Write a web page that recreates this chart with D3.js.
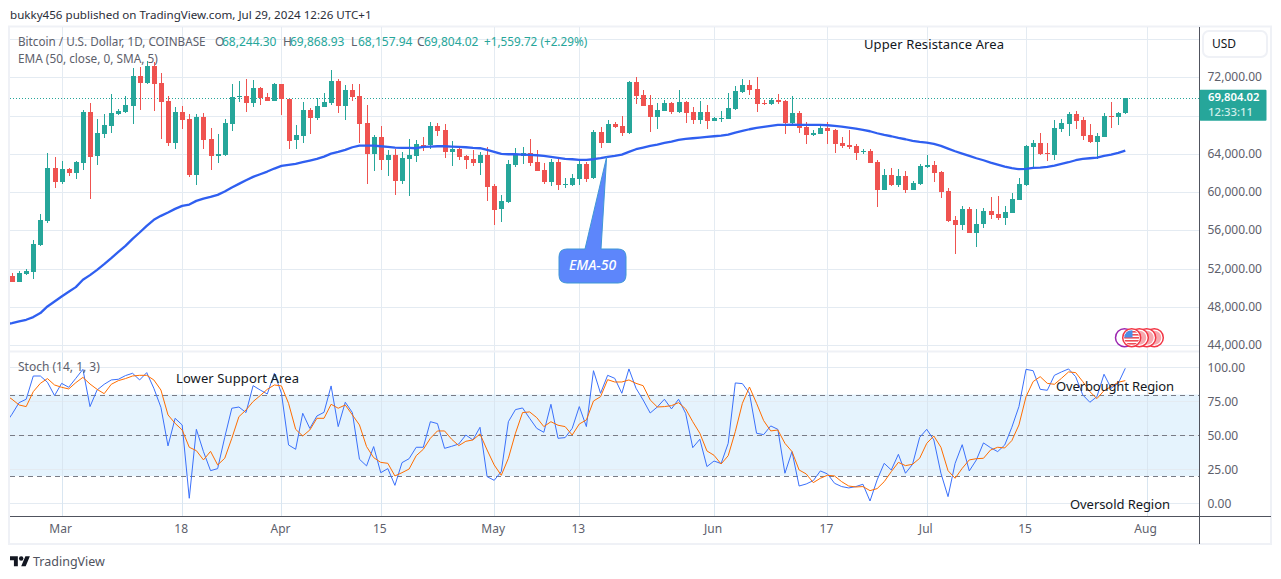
<!DOCTYPE html>
<html><head><meta charset="utf-8">
<script src="https://cdn.jsdelivr.net/npm/d3@7"></script>
<style>
html,body{margin:0;padding:0;background:#fff}
svg{display:block}
text{font-family:"Noto Sans",sans-serif;font-size:12px}
</style></head><body><svg id="c" width="1281" height="579"></svg>
<script>
const open=[51260,50633,51468,51677,54496,57002,62535,61073,62430,62013,63057,68381,63788,66084,66920,68172,68381,69008,72140,71409,73184,71409,69530,65145,68381,67650,61804,67859,65562,63788,63892,67128,69947,70052,69321,70887,69947,69530,71304,69738,65458,65876,68590,67755,68903,69321,71618,69008,70678,70052,67233,63996,65771,63370,63892,61178,63474,63788,64971,64936,66920,66502,64205,64518,63788,63474,63057,63892,60656,58254,58985,62848,63788,64101,63161,62326,61073,63161,60760,60760,61386,62952,61491,66293,65145,67128,66920,66189,71513,70156,69112,67859,68486,69321,68381,69425,68381,67546,68381,67442,67685,67650,68694,70469,71200,70782,69321,69216,69634,69530,67233,68277,66815,65980,66085,66711,66502,65145,64936,64832,64170,64310,63161,60238,61804,60760,61700,60238,60864,62674,62848,62117,60134,57106,56584,58254,55749,56688,58046,57732,57315,57837,59194,60760,64727,65145,64101,63892,66606,67128,68172,67546,65980,65249,65771,67964,67859,68244.30];
const high=[51538,51782,51956,55018,57732,64066,63683,63266,62535,63266,68590,69321,67650,68172,70260,68694,70052,72975,73079,73706,73601,72453,70052,68903,69008,68172,68172,68277,66711,66084,67650,71304,71618,71826,71722,70991,70365,71409,71304,69738,67024,69425,68799,69843,70365,72766,71826,71200,71304,71304,69112,65980,66920,64414,64518,64205,65562,65458,65771,67337,67233,67128,65354,64832,63892,64414,64205,64692,60864,59716,63370,64623,64727,65562,64414,63057,63474,63474,61491,61908,63474,63161,66502,66815,67546,67337,67964,71618,72000,70678,70156,69321,69634,69425,70678,69530,68903,69530,69112,67859,68486,70365,71096,71826,71722,72070,69634,69843,70260,69634,70052,68486,67337,66502,66920,67337,66606,65771,66502,65040,64518,64518,63370,62430,62535,62430,62222,61177,62952,63892,63266,62222,60447,57524,58568,58463,58254,58359,59507,59612,58568,59925,61491,64936,65458,66189,65145,67546,67650,68381,68486,67859,67128,66189,68277,69425,68381,69868.93];
const low=[50564,50600,51364,50946,54400,56828,60482,60899,61734,61386,62326,59298,62848,65667,66189,68068,68277,67128,68590,71350,68486,65562,64832,64518,66606,61595,60760,64518,62326,63057,63788,66398,69425,68381,68903,69112,69500,69500,68068,64518,64518,65145,66084,67546,68850,69112,68277,67546,69530,65145,60864,62162,62326,61700,59716,60864,59612,63161,64310,64518,65876,63579,62744,63370,62430,62744,61804,59090,56584,56897,58881,62639,62952,62744,62180,60864,60656,60238,60447,60656,60760,61073,61386,64623,65100,66711,65876,66085,69216,68950,66293,66606,68440,68172,68277,67233,67128,67128,66606,67400,67337,67600,68590,70365,70156,68381,69112,69112,69216,66085,67024,66189,65040,65876,66050,65040,64101,64623,64518,63370,63996,63000,58463,60200,60656,60551,59925,60200,60760,62535,61073,59403,56897,53556,56062,55700,54287,56271,57210,57106,56584,57800,59150,60656,62535,63892,63266,63370,66293,65876,66606,65458,65145,63474,65720,66711,67024,68157.94];
const close=[50633,51573,51747,54600,57106,62535,61073,62430,62013,63161,68381,63683,66189,67024,68277,68486,69112,72140,71409,73184,71304,69425,65145,68381,67546,61804,67859,65458,63788,63996,67233,69947,70052,69321,70887,69843,69530,71304,69704,65354,65980,68590,67755,69008,69425,71618,69008,70678,69947,67128,63996,65771,63370,63892,61178,63579,63892,65041,64950,66920,66398,64205,64518,63683,63370,63057,63892,60551,58150,59090,62952,63892,64101,63057,62222,61073,63161,60760,60830,61491,62952,61386,66293,65145,67128,66815,66189,71513,70052,69008,67859,68590,69321,68381,69425,68277,67546,68381,67442,67755,67720,68799,70574,71200,70678,69216,69216,69634,69425,67233,68277,66711,65980,66189,66711,66398,65040,64832,64727,64101,64310,63057,60238,61804,60760,61700,60238,60969,62744,62848,62013,60029,57002,56584,58254,55749,56688,58046,57628,57315,57941,59298,60864,64832,65145,63996,63996,66711,67233,68172,67442,65876,65249,65876,67964,67859,68277,69804.02];
// line series carry one extra leading value: the session just left of the visible range
const ema50=[46180,46318,46492,46666,46944,47362,48058,48580,49102,49589,50076,50842,51329,51886,52478,53104,53765,54392,55122,55784,56480,57106,57524,57872,58254,58568,58707,59090,59333,59507,59716,60064,60482,60864,61247,61595,61874,62152,62465,62744,62848,62952,63126,63300,63474,63718,64031,64205,64414,64692,64866,64866,64866,64797,64727,64658,64623,64623,64588,64727,64762,64797,64797,64762,64727,64692,64623,64588,64414,64205,63996,63962,63962,63927,63892,63857,63788,63683,63579,63474,63440,63370,63370,63440,63544,63683,63788,63927,64205,64484,64658,64832,64971,65145,65284,65458,65562,65632,65702,65771,65841,65910,66015,66224,66398,66572,66711,66815,66920,67024,67024,67059,67024,67024,67024,67024,66989,66920,66850,66746,66641,66502,66363,66154,65980,65841,65667,65528,65354,65249,65180,65040,64832,64553,64275,64031,63788,63544,63335,63094,62883,62674,62500,62396,62430,62535,62570,62639,62778,62952,63126,63335,63474,63544,63614,63788,63927,64101,64344];
const stochK=[58,65.5,74.0,76.5,93.6,93.6,89.0,79.2,88.2,85.3,91.9,98.5,71.1,83.3,87.5,90.7,91.2,93.9,95.6,90.7,96.1,84.6,70.6,42.2,62.5,57.6,3.7,54.4,38.0,24.0,25.5,48.5,69.9,70.8,66.7,86.5,83.3,80.4,95.6,80.9,42.9,39.7,66.2,55.1,64.2,66.9,86.3,56.4,74.3,66.7,32.4,27.5,41.7,22.5,25.5,13.2,29.9,32.8,41.2,41.2,60.0,58.6,40.4,41.9,43.6,50.2,46.6,55.9,19.6,16.9,23.3,60.0,68.9,70.1,62.5,55.1,52.2,72.8,47.8,48.3,55.1,71.1,56.4,97.5,80.9,94.1,91.9,80.9,98.8,84.6,76.0,66.4,70.8,76.5,69.4,76.5,66.2,40.9,47.1,27.0,31.1,29.2,44.1,88.5,88.0,80.9,51.5,50.5,56.9,54.4,22.1,38.0,12.7,14.2,16.7,23.8,21.6,14.7,12.3,11.3,12.3,14.0,1.7,17.2,29.4,24.5,36.0,22.1,28.7,48.5,54.4,46.6,22.1,4.9,29.4,43.1,23.8,31.9,44.4,40.9,38.0,42.9,55.9,71.1,98.5,97.5,83.8,83.1,94.1,96.6,98.8,93.1,79.7,74.3,78.4,94.9,84.6,88.2,99.3];
const stochD=[80,76.5,72.3,71.1,82.1,88.2,91.7,87.0,85.3,84.1,88.7,92.6,87.7,83.8,80.6,87.5,90.2,91.7,93.6,94.1,94.1,90.7,83.3,65.0,58.8,53.9,41.2,38.7,31.9,38.2,28.2,33.1,47.8,63.7,68.6,74.8,79.2,83.8,87.0,86.3,73.5,54.4,49.5,53.9,62.5,62.5,72.8,69.9,72.3,65.0,57.6,41.7,33.6,30.1,29.4,20.1,22.5,25.2,35.0,39.7,47.8,53.2,53.2,47.1,42.4,45.6,46.6,51.0,39.2,28.2,20.6,33.1,51.5,66.7,67.2,63.0,56.4,60.0,57.4,56.4,50.2,58.3,61.3,75.2,78.4,90.9,89.2,89.2,90.7,88.2,86.5,76.0,70.8,71.1,71.8,74.0,69.4,60.0,51.5,38.5,35.3,28.9,35.0,52.7,73.5,85.5,73.5,60.8,53.2,53.9,44.1,38.0,24.5,21.6,15.2,18.4,20.6,20.1,15.9,12.7,12.0,12.3,9.3,10.8,15.9,23.3,30.1,27.7,28.7,33.1,44.1,49.5,41.2,24.0,18.4,25.7,31.9,32.8,33.1,39.2,41.2,40.7,46.1,57.6,78.4,89.5,93.1,88.2,87.5,91.9,96.6,96.1,89.5,82.1,77.0,82.8,85.8,89.0,90.2];
const timeTickIdx=[7,24,38,52,68,80,99,115,129,143,160];
const timeTickLabels=["Mar","18","Apr","15","May","13","Jun","17","Jul","15","Aug"];
const priceTicks=[44000,48000,52000,56000,60000,64000,68000,72000,76000];
const priceTickLabels=["44,000.00","48,000.00","52,000.00","56,000.00","60,000.00","64,000.00",null,"72,000.00",null];
const stochTicks=[0,25,50,75,100];
const stochBands=[80,50,20];
const lastPrice=close[close.length-1];

const L=10,R=1199.5,TOP=27,SEP=351.5,BOT=516,FRAME_R=1271,FRAME_B=544;
const GRID="#e4ebf2",AXIS="#50535e",TXT="#5d606b",NOTE="#131722",UP="#26a69a",DOWN="#ef5350";
const svg=d3.select("#c");
const defs=svg.append("defs");
defs.append("clipPath").attr("id","cp").append("rect").attr("x",L).attr("y",TOP).attr("width",R-L).attr("height",BOT-TOP);
defs.append("clipPath").attr("id","flagclip").append("circle").attr("cx",1131.7).attr("cy",337.7).attr("r",7.5);

const x=d3.scaleLinear().domain([0,157]).range([12,1125.3]);
const y=d3.scaleLinear().domain([44000,72000]).range([345.3,77.3]);
const s=d3.scaleLinear().domain([0,100]).range([503.3,367.3]);

// frame
const frameColor="#eff1f6";
svg.append("rect").attr("x",9).attr("y",26.5).attr("width",FRAME_R-9).attr("height",FRAME_B-26.5).attr("fill","none").attr("stroke",frameColor).attr("stroke-width",2);

const g=svg.append("g").attr("clip-path","url(#cp)");
g.selectAll("line.v").data(timeTickIdx).join("line").attr("x1",d=>Math.round(x(d))+.5).attr("x2",d=>Math.round(x(d))+.5).attr("y1",TOP).attr("y2",BOT).attr("stroke",GRID);
g.selectAll("line.h").data(priceTicks).join("line").attr("x1",L).attr("x2",R).attr("y1",d=>Math.round(y(d))+.5).attr("y2",d=>Math.round(y(d))+.5).attr("stroke",GRID);
g.append("rect").attr("x",L).attr("width",R-L).attr("y",s(80)).attr("height",s(20)-s(80)).attr("fill","#e5f3fd");
g.selectAll("line.s").data(stochTicks).join("line").attr("x1",L).attr("x2",R).attr("y1",d=>Math.round(s(d))+.5).attr("y2",d=>Math.round(s(d))+.5).attr("stroke",GRID);
g.selectAll("line.v2").data(timeTickIdx).join("line").attr("x1",d=>Math.round(x(d))+.5).attr("x2",d=>Math.round(x(d))+.5).attr("y1",SEP).attr("y2",BOT).attr("stroke","#d9e6f1");
svg.append("line").attr("x1",L).attr("x2",R).attr("y1",SEP).attr("y2",SEP).attr("stroke",frameColor).attr("stroke-width",2);
g.selectAll("line.d").data(stochBands).join("line").attr("x1",L).attr("x2",R).attr("y1",d=>Math.round(s(d))+.5).attr("y2",d=>Math.round(s(d))+.5).attr("stroke","#787b86").attr("stroke-dasharray","5 4");
g.append("line").attr("x1",L).attr("x2",R).attr("y1",Math.round(y(lastPrice))+.5).attr("y2",Math.round(y(lastPrice))+.5).attr("stroke",UP).attr("stroke-dasharray","1 2");

// candles
const idx=d3.range(close.length);
const col=i=>close[i]>=open[i]?UP:DOWN;
const cg=g.append("g").attr("shape-rendering","crispEdges");
cg.selectAll("rect.w").data(idx).join("rect").attr("x",i=>Math.round(x(i))).attr("width",1).attr("y",i=>y(high[i])).attr("height",i=>y(low[i])-y(high[i])).attr("fill",col);
cg.selectAll("rect.b").data(idx).join("rect").attr("x",i=>Math.round(x(i))-2).attr("width",5).attr("y",i=>y(Math.max(open[i],close[i]))).attr("height",i=>Math.max(1,Math.abs(y(open[i])-y(close[i])))).attr("fill",col);

// EMA and stochastic lines (index 0 of each is the session before the first candle)
g.append("path").datum(ema50).attr("fill","none").attr("stroke","#2f5ff0").attr("stroke-width",2.3).attr("stroke-linejoin","round").attr("d",d3.line().x((d,i)=>x(i-1)).y(d=>y(d)));
g.append("path").datum(stochK).attr("fill","none").attr("stroke","#3a70fb").attr("stroke-width",1).attr("d",d3.line().x((d,i)=>x(i-1)).y(d=>s(d)));
g.append("path").datum(stochD).attr("fill","none").attr("stroke","#ff6d00").attr("stroke-width",1).attr("d",d3.line().x((d,i)=>x(i-1)).y(d=>s(d)));

svg.append("line").attr("x1",R).attr("x2",R).attr("y1",TOP).attr("y2",FRAME_B).attr("stroke",AXIS).attr("stroke-width",1);
// time axis
const ax=d3.axisBottom(x).tickValues(timeTickIdx).tickFormat((d,i)=>timeTickLabels[i]).tickSize(0).tickPadding(8);
const axG=svg.append("g").attr("transform",`translate(0,${BOT})`).call(ax);
axG.select(".domain").attr("d",`M${L},0.5H${FRAME_R}`).attr("stroke",AXIS);
axG.selectAll("text").attr("fill",TXT).attr("dx","-1.5").style("font-family",'"Noto Sans",sans-serif').style("font-size","12px").attr("dy","0.71em");
// price axis
const pa=d3.axisRight(y).tickValues(priceTicks.filter((d,i)=>priceTickLabels[i])).tickFormat(d=>priceTickLabels[priceTicks.indexOf(d)]).tickSize(0).tickPadding(8);
const paG=svg.append("g").attr("transform",`translate(${R},0)`).call(pa);
paG.select(".domain").remove();
paG.selectAll("text").attr("fill",TXT).style("font-family",'"Noto Sans",sans-serif').style("font-size","12px").attr("dy","0.28em");
const sa=d3.axisRight(s).tickValues(stochTicks).tickFormat(d=>d3.format(".2f")(d)).tickSize(0).tickPadding(8);
const saG=svg.append("g").attr("transform",`translate(${R},0)`).call(sa);
saG.select(".domain").remove();
saG.selectAll("text").attr("fill",TXT).style("font-family",'"Noto Sans",sans-serif').style("font-size","12px").attr("dy","0.33em");

// USD box
svg.append("rect").attr("x",1203).attr("y",31).attr("width",64).attr("height",26).attr("rx",6).attr("fill","#fff").attr("stroke",frameColor).attr("stroke-width",2);
svg.append("text").attr("x",1212).attr("y",48).attr("fill",NOTE).text("USD");

// last price label
const ly=y(lastPrice);
svg.append("rect").attr("x",R).attr("y",ly-8.5).attr("width",1266.5-R).attr("height",31).attr("rx",1).attr("fill",UP);
svg.append("text").attr("x",1208).attr("y",ly+2.5).attr("fill","#fff").style("font-weight",600).style("font-size","11.3px").text(d3.format(",.2f")(lastPrice));
svg.append("text").attr("x",1208).attr("y",ly+18).attr("fill","#cfeeea").style("font-weight",500).style("font-size","11.3px").text("12:33:11");

// legend
const hdr=(t,xp,yp,c,fs)=>{const e=svg.append("text").attr("x",xp).attr("y",yp).attr("fill",c).text(t);if(fs)e.style("font-size",fs+"px");return e;};
hdr("bukky456 published on TradingView.com, Jul 29, 2024 12:26 UTC+1",10,19,"#2a2e39",11.6);
hdr("Bitcoin / U.S. Dollar, 1D, COINBASE",18,46,TXT,11.7);
hdr("O",215,46,TXT);hdr(d3.format(",.2f")(open[157]),222,46,UP);
hdr("H",283,46,TXT);hdr(d3.format(",.2f")(high[157]),290,46,UP);
hdr("L",351,46,TXT);hdr(d3.format(",.2f")(low[157]),358,46,UP);
hdr("C",417,46,TXT);hdr(d3.format(",.2f")(close[157]),424,46,UP);
hdr("+1,559.72 (+2.29%)",484,46,UP,11.75);
hdr("EMA (50, close, 0, SMA, 5)",18,63,TXT,11.8);
hdr("Stoch (14, 1, 3)",18,371,TXT);

// annotations
const note=(t,xp,yp,w)=>svg.append("text").attr("x",xp).attr("y",yp).attr("fill",NOTE).attr("textLength",w).attr("lengthAdjust","spacing").style("font-size","13px").text(t);
note("Upper Resistance Area",864,49,140);
note("Lower Support Area",176,383,123);
note("Overbought Region",1056,391,118);
note("Oversold Region",1070,509,100);

// EMA-50 callout
const tipX=x(84),tipY=y(ema50[85]);
svg.append("path").attr("d",`M567,249H585L${tipX-1},${tipY}L601,249H618Q626,249 626,257V275Q626,283 618,283H567Q559,283 559,275V257Q559,249 567,249Z`)
 .attr("fill","#5d86fb").attr("stroke","#3f97d6").attr("stroke-width",1);
svg.append("text").attr("x",592.5).attr("y",270).attr("text-anchor","middle").attr("fill","#fff").style("font-style","italic").style("font-weight",500).style("font-size","14px").text("EMA-50");

// event flags
svg.append("circle").attr("cx",1124.5).attr("cy",337.7).attr("r",9).attr("fill","#fff").attr("stroke","#9c27b0").attr("stroke-width",1.5);
[1154.3,1146.7,1139.3,1131.7].forEach(cx=>{
  svg.append("circle").attr("cx",cx).attr("cy",337.7).attr("r",9).attr("fill","#fff").attr("stroke","#f23645").attr("stroke-width",1.5);
  svg.append("circle").attr("cx",cx).attr("cy",337.7).attr("r",7).attr("fill","#f7a8ae");
});
const fl=svg.append("g").attr("clip-path","url(#flagclip)");
fl.append("rect").attr("x",1124).attr("y",330).attr("width",16).attr("height",16).attr("fill","#fff");
d3.range(5).forEach(k=>fl.append("rect").attr("x",1124).attr("y",331+k*3).attr("width",16).attr("height",1.6).attr("fill","#ef4d55"));
fl.append("rect").attr("x",1124).attr("y",330).attr("width",8.5).attr("height",7.5).attr("fill","#4a8fe7");

// logo
const lg=svg.append("g").attr("transform","translate(10,554) scale(0.56)").attr("fill","#131722");
lg.append("path").attr("d","M14 22H7V11H0V4h14v18zM28 22h-8l7.5-18h8L28 22z");
lg.append("circle").attr("cx",20).attr("cy",8).attr("r",4);
svg.append("text").attr("x",33).attr("y",566).attr("fill","#50535e").style("font-size","12.5px").text("TradingView");
</script></body></html>
